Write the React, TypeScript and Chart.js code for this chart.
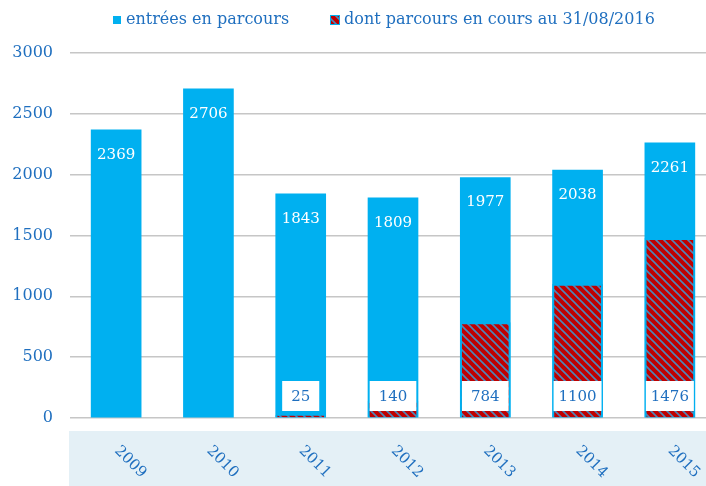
import React, { useEffect, useRef } from "react";
import { Chart, registerables } from "chart.js";

Chart.register(...registerables);

const categories = ["2009", "2010", "2011", "2012", "2013", "2014", "2015"];
const entrees = [2369, 2706, 1843, 1809, 1977, 2038, 2261];
const enCours: (number | null)[] = [null, null, 25, 140, 784, 1100, 1476];
const yTicks = [0, 500, 1000, 1500, 2000, 2500, 3000];
const legendLabels = ["entrées en parcours", "dont parcours en cours au 31/08/2016"];

const BLUE = "#00b0f0";
const RED = "#c00000";
const TEXT = "#1f6fbf";
const FONT = "'DejaVu Serif', serif";

function makePattern(): CanvasPattern | string {
  const c = document.createElement("canvas");
  c.width = 8;
  c.height = 8;
  const g = c.getContext("2d");
  if (!g) return RED;
  g.fillStyle = RED;
  g.fillRect(0, 0, 8, 8);
  g.strokeStyle = "#4f86b8";
  g.lineWidth = 1.6;
  g.beginPath();
  g.moveTo(-2, -2);
  g.lineTo(10, 10);
  g.moveTo(-10, -2);
  g.lineTo(2, 10);
  g.moveTo(6, -2);
  g.lineTo(18, 10);
  g.stroke();
  const p = g.createPattern(c, "repeat");
  return p || RED;
}

export default function App() {
  const ref = useRef<HTMLCanvasElement | null>(null);

  useEffect(() => {
    if (!ref.current) return;
    const pattern = makePattern();

    const customPlugin = {
      id: "custom",
      beforeDraw(chart: any) {
        const ctx = chart.ctx;
        ctx.save();
        ctx.fillStyle = "#e4f0f6";
        ctx.fillRect(69, 431, chart.width - 69, chart.height - 431);
        ctx.restore();
      },
      afterDatasetsDraw(chart: any) {
        const ctx = chart.ctx;
        const area = chart.chartArea;
        ctx.save();
        ctx.font = `15px ${FONT}`;
        ctx.textAlign = "center";
        ctx.textBaseline = "middle";
        // top labels on blue bars
        const m0 = chart.getDatasetMeta(0);
        m0.data.forEach((bar: any, i: number) => {
          ctx.fillStyle = "#ffffff";
          ctx.fillText(String(entrees[i]), bar.x, bar.y + 25);
        });
        // inner labels
        const m1 = chart.getDatasetMeta(1);
        m1.data.forEach((bar: any, i: number) => {
          const v = enCours[i];
          if (v === null || v === undefined) return;
          const txt = String(v);
          const tw = ctx.measureText(txt).width;
          const bw = Math.min(tw + 18, bar.width - 2);
          const cy = area.bottom - 22;
          ctx.fillStyle = "#ffffff";
          ctx.fillRect(bar.x - bw / 2, cy - 15, bw, 30);
          ctx.fillStyle = TEXT;
          ctx.fillText(txt, bar.x, cy + 1);
        });
        ctx.restore();
      },
      afterDraw(chart: any) {
        const ctx = chart.ctx;
        const xs = chart.scales.x;
        ctx.save();
        // x labels rotated clockwise
        ctx.font = `15px ${FONT}`;
        ctx.fillStyle = TEXT;
        ctx.textAlign = "center";
        ctx.textBaseline = "middle";
        categories.forEach((c, i) => {
          const x = xs.getPixelForValue(i);
          ctx.save();
          ctx.translate(x + 14, 462);
          ctx.rotate(Math.PI / 4);
          ctx.fillText(c, 0, 0);
          ctx.restore();
        });
        // legend
        ctx.font = `16px ${FONT}`;
        ctx.textAlign = "left";
        ctx.textBaseline = "middle";
        ctx.fillStyle = BLUE;
        ctx.fillRect(113, 16, 8, 8);
        ctx.fillStyle = TEXT;
        ctx.fillText(legendLabels[0], 126, 20);
        ctx.fillStyle = BLUE;
        ctx.fillRect(330, 15, 10, 10);
        ctx.fillStyle = pattern as any;
        ctx.fillRect(331, 16, 8, 8);
        ctx.fillStyle = TEXT;
        ctx.fillText(legendLabels[1], 344, 20);
        ctx.restore();
      },
    };

    const chart = new Chart(ref.current, {
      type: "bar",
      data: {
        labels: categories,
        datasets: [
          {
            label: legendLabels[0],
            data: entrees,
            backgroundColor: BLUE,
            borderWidth: 0,
            barThickness: 50,
            grouped: false,
            order: 2,
          } as any,
          {
            label: legendLabels[1],
            data: enCours,
            backgroundColor: pattern as any,
            borderColor: BLUE,
            borderWidth: 2,
            barThickness: 50,
            grouped: false,
            order: 1,
          } as any,
        ],
      },
      options: {
        animation: false,
        responsive: true,
        maintainAspectRatio: false,
        layout: { padding: { top: 53, bottom: 68, left: 8, right: 0 } },
        plugins: {
          legend: { display: false },
          tooltip: { enabled: false },
        },
        scales: {
          x: { display: false },
          y: {
            min: 0,
            max: 3000,
            afterBuildTicks: (s: any) => {
              s.ticks = yTicks.map((v) => ({ value: v }));
            },
            afterFit: (s: any) => {
              s.width = 62;
            },
            grid: { color: "#c6c6c6", lineWidth: 1.5, drawTicks: false },
            border: { display: false },
            ticks: {
              font: { family: FONT, size: 16 },
              color: TEXT,
              padding: 17,
              callback: (v: any) => String(v),
            },
          },
        },
      },
      plugins: [customPlugin],
    });
    return () => chart.destroy();
  }, []);

  return (
    <div
      style={{
        position: "fixed",
        left: 0,
        top: 0,
        width: 706,
        height: 486,
        overflow: "hidden",
        background: "#ffffff",
      }}
    >
      <div style={{ position: "relative", width: 716, height: 486 }}>
        <canvas ref={ref} />
      </div>
    </div>
  );
}
